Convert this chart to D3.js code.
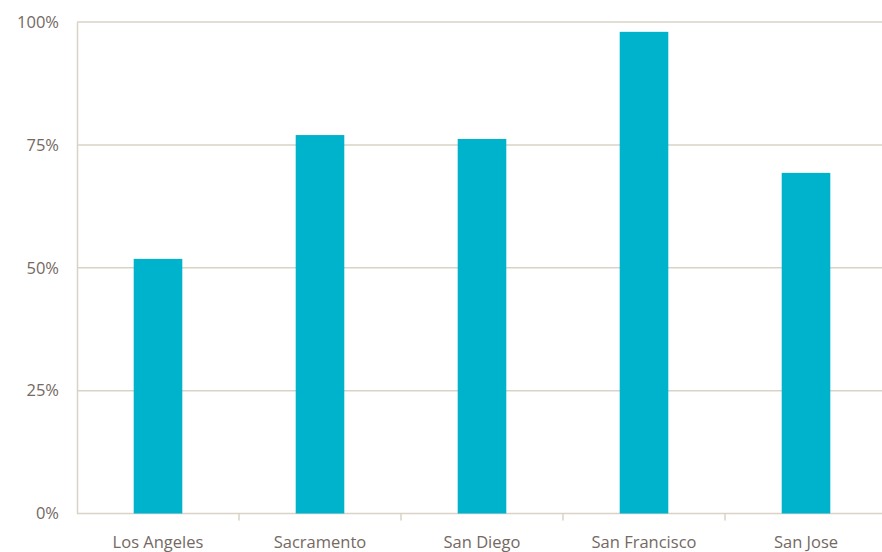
<!DOCTYPE html>
<html>
<head>
<meta charset="utf-8">
<script src="https://cdn.jsdelivr.net/npm/d3@7"></script>
<style>
  html, body { margin: 0; padding: 0; background: #fff; }
  svg { display: block; }
  text { font-family: "Open Sans", "Noto Sans", sans-serif; fill: #746963; }
</style>
</head>
<body>
<svg id="chart" width="882" height="552"></svg>
<script>
// Share by city
const cities = ["Los Angeles", "Sacramento", "San Diego", "San Francisco", "San Jose"];
const shares = [0.518, 0.770, 0.762, 0.980, 0.693];
const yTicks = [0, 0.25, 0.5, 0.75, 1];

const width = 882, height = 552;
const margin = { top: 22, right: -5, bottom: 38.5, left: 77 };

const svg = d3.select("#chart");
const gridColor = "#d8d3c6";
const barColor = "#00b3cc";

const x = d3.scaleBand()
  .domain(cities)
  .range([margin.left, width - margin.right])
  .paddingInner(0.7)
  .paddingOuter(0.35);

const y = d3.scaleLinear()
  .domain([0, 1])
  .range([height - margin.bottom, margin.top]);

// horizontal gridlines
svg.append("g")
  .selectAll("line")
  .data(yTicks)
  .join("line")
  .attr("x1", margin.left)
  .attr("x2", width)
  .attr("y1", d => y(d))
  .attr("y2", d => y(d))
  .attr("stroke", gridColor)
  .attr("stroke-width", 1.5);

// y axis labels and vertical axis line
const yAxis = d3.axisLeft(y)
  .tickValues(yTicks)
  .tickFormat(d3.format(".0%"))
  .tickSize(0)
  .tickPadding(18);

const gy = svg.append("g")
  .attr("transform", `translate(${margin.left},0)`)
  .call(yAxis);
gy.select(".domain").attr("stroke", gridColor).attr("stroke-width", 1.5);
gy.selectAll("text").attr("font-size", 16.5).style("font-family", null);

// bars
svg.append("g")
  .selectAll("rect")
  .data(cities.map((c, i) => ({ city: c, value: shares[i] })))
  .join("rect")
  .attr("x", d => x(d.city))
  .attr("width", x.bandwidth())
  .attr("y", d => y(d.value))
  .attr("height", d => y(0) - y(d.value))
  .attr("fill", barColor);

// x axis: category labels with separator ticks between bands
const step = x.step();
const gx = svg.append("g")
  .attr("transform", `translate(0,${y(0)})`);

gx.selectAll("line.sep")
  .data(cities.slice(1))
  .join("line")
  .attr("class", "sep")
  .attr("x1", d => x(d) + x.bandwidth() / 2 - step / 2)
  .attr("x2", d => x(d) + x.bandwidth() / 2 - step / 2)
  .attr("y1", 0)
  .attr("y2", 7)
  .attr("stroke", gridColor)
  .attr("stroke-width", 1.5);

gx.selectAll("text")
  .data(cities)
  .join("text")
  .attr("x", d => x(d) + x.bandwidth() / 2)
  .attr("y", 34)
  .attr("text-anchor", "middle")
  .attr("font-size", 16.5)
  .text(d => d);
</script>
</body>
</html>
